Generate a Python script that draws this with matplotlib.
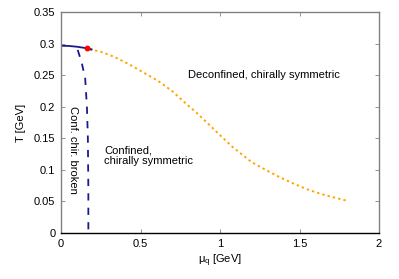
import matplotlib
matplotlib.use('Agg')
import matplotlib.pyplot as plt

plt.rcParams['font.family'] = ['Liberation Sans', 'DejaVu Sans']

# crossover line (deconfinement)
muCross = [0.18, 0.24, 0.335, 0.43, 0.52, 0.61, 0.70, 0.79, 0.85, 0.93,
           1.00, 1.08, 1.20, 1.28, 1.37, 1.46, 1.56, 1.66, 1.80]
tCross = [0.290, 0.288, 0.279, 0.267, 0.254, 0.241, 0.2245, 0.204, 0.191, 0.172,
          0.155, 0.136, 0.112, 0.101, 0.089, 0.0785, 0.068, 0.060, 0.051]

# first order chiral line
muFirst = [0.0, 0.05, 0.10, 0.165]
tFirst = [0.2965, 0.2962, 0.295, 0.2925]

# short continuation past the critical point
muCont = [0.165, 0.19, 0.22]
tCont = [0.2925, 0.291, 0.289]

# spinodal / confinement boundary
muSpin = [0.105, 0.13, 0.152, 0.163, 0.169, 0.172, 0.172]
tSpin = [0.290, 0.270, 0.245, 0.200, 0.150, 0.070, 0.0]

# critical end point
muCep = [0.165]
tCep = [0.2925]

xTicks = [0, 0.5, 1, 1.5, 2]
xTickLabels = ['0', '0.5', '1', '1.5', '2']
yTicks = [0, 0.05, 0.1, 0.15, 0.2, 0.25, 0.3, 0.35]
yTickLabels = ['0', '0.05', '0.1', '0.15', '0.2', '0.25', '0.3', '0.35']

navy = '#1a1a8c'
orange = '#ffa500'
fs = 8

fig = plt.figure(figsize=(3.99, 2.79), dpi=100)
ax = fig.add_axes([61/399, 46/279, 318/399, 221/279])

ax.plot(muCross, tCross, color=orange, lw=1.4, linestyle=(0, (1.2, 1.6)))
ax.plot(muFirst, tFirst, color=navy, lw=1.3)
ax.plot(muCont, tCont, color=navy, lw=1.3, linestyle=(0, (3, 2)))
ax.plot(muSpin, tSpin, color=navy, lw=1.3, linestyle=(0, (4, 4)))
ax.plot(muCep, tCep, 'o', color='red', ms=3.2)

ax.set_xlim(0, 2)
ax.set_ylim(0, 0.35)
ax.set_xticks(xTicks)
ax.set_xticklabels(xTickLabels)
ax.set_yticks(yTicks)
ax.set_yticklabels(yTickLabels)
ax.tick_params(direction='in', top=True, right=True, labelsize=fs, length=3,
               width=0.6, color='#808080', pad=4)

for side in ['left', 'right', 'top']:
    ax.spines[side].set_color('#808080')
    ax.spines[side].set_linewidth(1.0)
ax.spines['bottom'].set_color('black')
ax.spines['bottom'].set_linewidth(1.0)

ax.set_xlabel(r'$\mathregular{\mu_q}$ [GeV]', fontsize=fs, labelpad=3)
ax.set_ylabel('T [GeV]', fontsize=fs, labelpad=6)

ax.text(0.80, 0.25, 'Deconfined, chirally symmetric', fontsize=fs,
        ha='left', va='center')
ax.text(0.27, 0.122, 'Confined,\nchirally symmetric', fontsize=fs,
        ha='left', va='center', linespacing=1.0)
ax.text(0.073, 0.131, 'Conf. chir. broken', fontsize=fs, rotation=-90,
        ha='center', va='center')

fig.savefig('out.png', dpi=100)
